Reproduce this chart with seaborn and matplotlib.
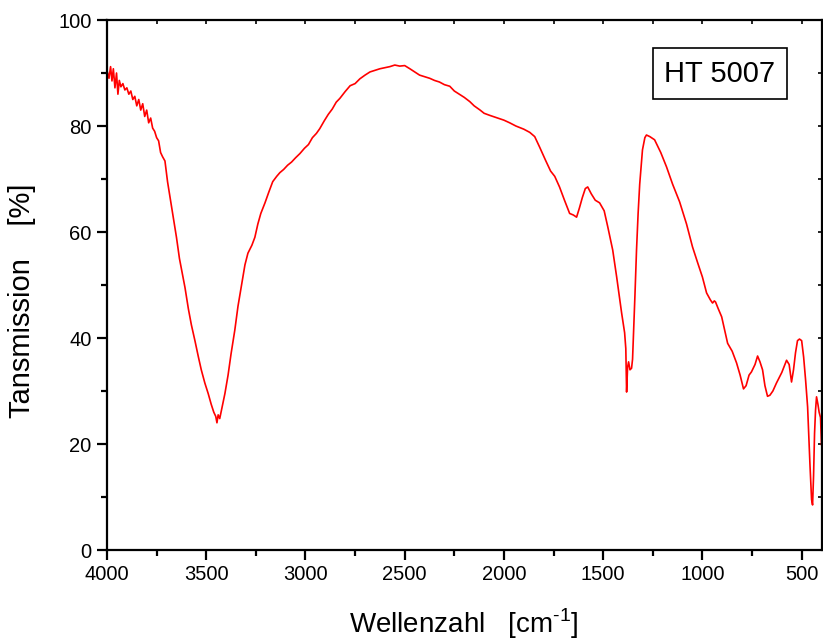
import pandas as pd
import matplotlib.pyplot as plt
import seaborn as sns

# IR spectrum values (wavenumber in cm^-1, transmission in %)
wavenumber = [
    4000, 3990, 3982, 3975, 3968, 3960, 3952, 3945, 3938, 3930, 3920, 3910,
    3900, 3890, 3880, 3870, 3860, 3850, 3840, 3830, 3820, 3810, 3800, 3790,
    3780, 3770, 3760, 3750, 3740, 3730, 3720, 3708, 3695, 3680, 3665, 3650,
    3635, 3620, 3607, 3590, 3575, 3557, 3540, 3525, 3507, 3490, 3475, 3462,
    3452, 3446, 3440, 3432, 3420, 3406, 3390, 3375, 3356, 3340, 3320, 3305,
    3290, 3270, 3255, 3240, 3225, 3204, 3185, 3165, 3145, 3129, 3110, 3090,
    3070, 3050, 3028, 3005, 2985, 2965, 2945, 2928, 2905, 2885, 2865, 2845,
    2827, 2800, 2775, 2750, 2726, 2700, 2675, 2650, 2625, 2600, 2575, 2550,
    2525, 2500, 2474, 2450, 2425, 2400, 2374, 2350, 2325, 2300, 2273, 2250,
    2225, 2200, 2172, 2150, 2120, 2100, 2071, 2040, 2000, 1971, 1940, 1900,
    1870, 1845, 1820, 1790, 1765, 1744, 1720, 1695, 1669, 1650, 1634, 1620,
    1605, 1590, 1578, 1560, 1540, 1518, 1495, 1477, 1452, 1432, 1407, 1392,
    1386, 1382, 1377, 1372, 1365, 1357, 1352, 1347, 1340, 1332, 1324, 1316,
    1302, 1290, 1282, 1265, 1241, 1210, 1181, 1150, 1115, 1080, 1050, 1024,
    1000, 979, 960, 949, 940, 934, 920, 903, 873, 850, 828, 810, 800, 793,
    780, 765, 753, 735, 722, 710, 697, 685, 672, 660, 645, 627, 600, 576,
    563, 551, 541, 531, 521, 511, 500, 490, 480, 470, 458, 450, 445, 440,
    435, 430, 425, 418, 412, 405, 400,
]
transmission = [
    90.5, 89.0, 91.2, 88.5, 90.8, 87.2, 90.0, 86.0, 88.6, 87.4, 88.0, 86.8,
    87.2, 86.0, 86.6, 85.0, 85.6, 83.8, 85.0, 83.0, 84.2, 81.8, 83.0, 80.6,
    81.5, 79.6, 79.0, 77.8, 77.2, 75.0, 74.2, 73.4, 69.5, 66.0, 62.5, 59.0,
    55.0, 52.0, 49.5, 45.5, 42.5, 39.5, 36.5, 34.0, 31.5, 29.5, 27.5, 26.0,
    25.2, 24.0, 25.5, 24.8, 27.0, 29.5, 33.0, 37.0, 41.5, 46.0, 50.5, 53.8,
    56.0, 57.5, 59.0, 61.5, 63.5, 65.5, 67.5, 69.5, 70.5, 71.2, 71.8, 72.6,
    73.2, 74.0, 74.8, 75.8, 76.5, 77.8, 78.6, 79.5, 81.0, 82.2, 83.2, 84.5,
    85.2, 86.5, 87.6, 88.0, 88.9, 89.6, 90.2, 90.5, 90.8, 91.0, 91.2, 91.5,
    91.3, 91.4, 90.8, 90.2, 89.6, 89.3, 89.0, 88.6, 88.3, 87.8, 87.5, 86.6,
    86.0, 85.4, 84.6, 83.8, 83.0, 82.4, 82.0, 81.6, 81.1, 80.6, 80.0, 79.4,
    78.8, 78.0, 76.0, 73.5, 71.5, 70.5, 68.5, 66.0, 63.5, 63.2, 62.8, 64.5,
    66.5, 68.2, 68.5, 67.2, 66.0, 65.5, 64.0, 61.0, 56.6, 51.5, 44.7, 41.0,
    38.0, 29.8, 34.5, 35.5, 34.0, 34.3, 36.0, 41.0, 48.0, 56.6, 63.5, 69.0,
    75.5, 77.8, 78.3, 78.0, 77.4, 75.0, 72.3, 69.0, 65.7, 61.5, 57.2, 54.2,
    51.5, 48.5, 47.2, 46.6, 47.0, 46.8, 45.5, 44.0, 39.0, 37.5, 35.3, 33.0,
    31.5, 30.4, 31.0, 33.0, 33.6, 35.0, 36.6, 35.5, 34.0, 31.0, 29.0, 29.2,
    30.0, 31.5, 33.5, 35.8, 35.0, 31.7, 34.0, 37.2, 39.5, 39.8, 39.5, 36.4,
    32.0, 27.0, 16.0, 9.5, 8.5, 14.0, 22.0, 26.4, 28.9, 27.5, 26.0, 25.0,
    19.8,
]

major_x = [4000, 3500, 3000, 2500, 2000, 1500, 1000, 500]
minor_x = [3750, 3250, 2750, 2250, 1750, 1250, 750]
major_y = [0, 20, 40, 60, 80, 100]
minor_y = [10, 30, 50, 70, 90]

df = pd.DataFrame({'Wellenzahl': wavenumber, 'Transmission': transmission})

sns.set_style("ticks")
plt.rcParams['font.family'] = ['Liberation Sans', 'DejaVu Sans']
plt.rcParams['mathtext.fontset'] = 'custom'
plt.rcParams['mathtext.rm'] = 'Liberation Sans'
plt.rcParams['text.color'] = 'black'
plt.rcParams['axes.labelcolor'] = 'black'

fig = plt.figure(figsize=(8.23, 6.43), dpi=100)
ax = fig.add_axes([107 / 823, 93 / 643, 714.5 / 823, 530 / 643])

sns.lineplot(data=df, x='Wellenzahl', y='Transmission', ax=ax, color='#ff0000',
             linewidth=1.2, sort=False)

ax.set_xlim(4000, 400)
ax.set_ylim(0, 100)
ax.set_xticks(major_x)
ax.set_xticks(minor_x, minor=True)
ax.set_yticks(major_y)
ax.set_yticks(minor_y, minor=True)

for side in ['left', 'right', 'top', 'bottom']:
    ax.spines[side].set_visible(True)
    ax.spines[side].set_linewidth(1.6)
    ax.spines[side].set_color('black')

ax.tick_params(axis='both', which='major', direction='out', length=7, width=1.6,
               labelsize=14.5, colors='black', labelcolor='black', pad=4)
ax.tick_params(axis='both', which='minor', direction='out', length=4.5, width=1.6,
               colors='black')

# small inner ticks on top and right, Origin style
ax2 = ax.secondary_xaxis('top')
ax2.set_xticks(major_x + minor_x)
ax2.tick_params(direction='in', length=3, width=1.2, labeltop=False, colors='black')
ax2.spines['top'].set_visible(False)
ax3 = ax.secondary_yaxis('right')
ax3.set_yticks(major_y + minor_y)
ax3.tick_params(direction='in', length=3, width=1.2, labelright=False, colors='black')
ax3.spines['right'].set_visible(False)

ax.set_xlabel(r'Wellenzahl   [cm$^{\text{-1}}$]', fontsize=20, labelpad=16)
ax.set_ylabel('Tansmission    [%]', fontsize=21)
ax.yaxis.set_label_coords(-0.1, 0.47)

ax.text(0.858, 0.899, 'HT 5007', transform=ax.transAxes, fontsize=21,
        ha='center', va='center',
        bbox=dict(boxstyle='square,pad=0.4', facecolor='white', edgecolor='black', linewidth=1.2))

plt.savefig('out.png', dpi=100)
plt.close()
